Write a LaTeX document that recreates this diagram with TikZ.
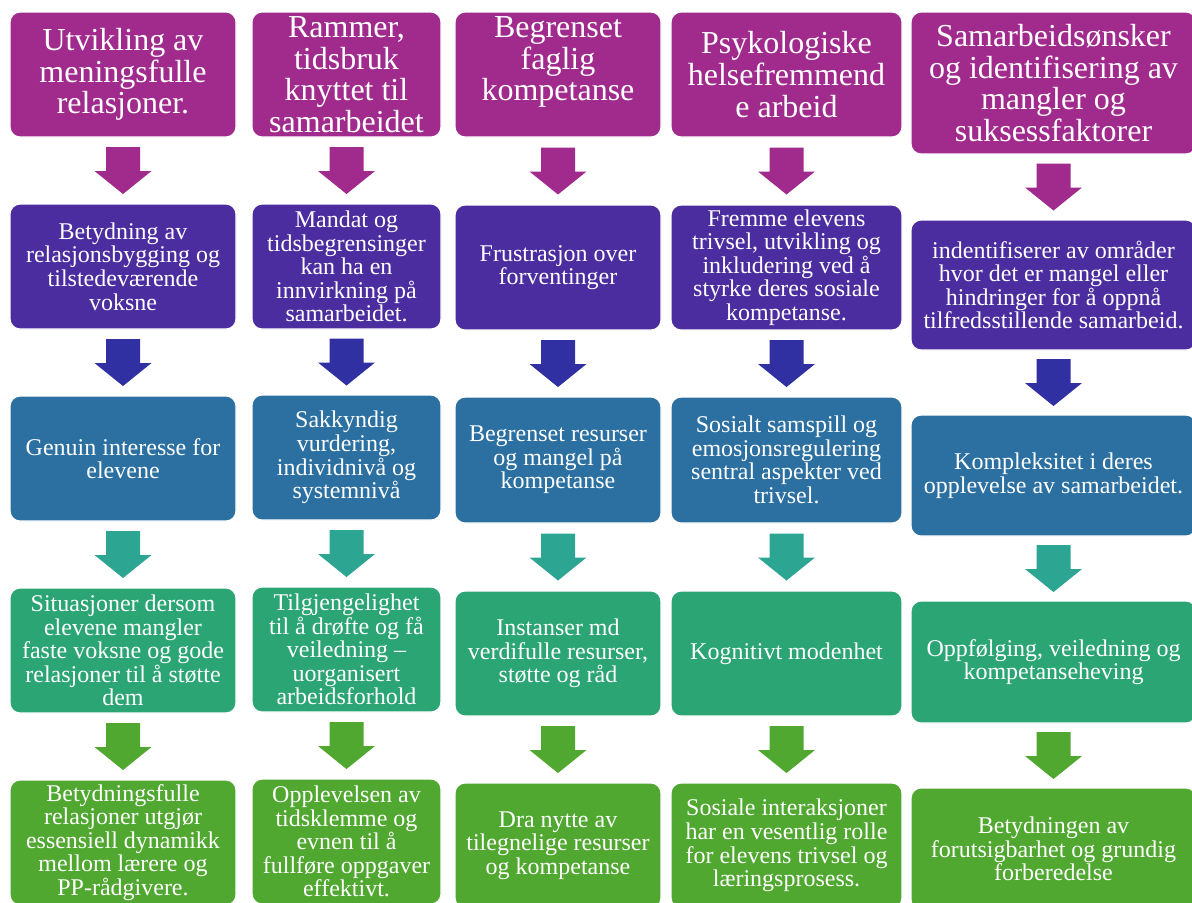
\documentclass[tikz,border=0pt]{standalone}
\usepackage{fontspec}
\setmainfont{Liberation Serif}
\usepackage{tikz}
\definecolor{farge1}{RGB}{160,43,141}
\definecolor{farge2}{RGB}{76,45,160}
\definecolor{pilblaa}{RGB}{48,48,163}
\definecolor{farge3}{RGB}{44,112,161}
\definecolor{piltyrkis}{RGB}{45,165,147}
\definecolor{farge4}{RGB}{44,165,117}
\definecolor{farge5}{RGB}{80,168,48}
\usetikzlibrary{calc}

\begin{document}
\begin{tikzpicture}[x=0.5pt, y=-0.5pt,
				boks/.style={rectangle, rounded corners=5pt, draw=white, line width=0.6pt, text=white, align=center, inner sep=0pt, font=\fontsize{12}{11.8}\selectfont},
				tittel/.style={boks, fill=farge1, font=\fontsize{16}{15.8}\selectfont},
				pil/.pic={\fill[pic actions] (-17,-23.5) -- (17,-23.5) -- (17,0.5) -- (28.5,0.5) -- (0,23.5) -- (-28.5,0.5) -- (-17,0.5) -- cycle;}]
				%Bildbereich
				\useasboundingbox (0,0) rectangle (1192,902);
				% Rad 1: overskrifter
				\node[tittel, minimum width=113pt, minimum height=62.5pt] (b11) at (123,74.5) {Utvikling av\\meningsfulle\\relasjoner.};
				\node[tittel, minimum width=94.5pt, minimum height=62.5pt] (b12) at (346.5,74.5) {Rammer,\\tidsbruk\\knyttet til\\samarbeidet};
				\node[tittel, minimum width=103pt, minimum height=62.5pt] (b13) at (558,74.5) {Begrenset\\faglig\\kompetanse\\\mbox{}};
				\node[tittel, minimum width=115.5pt, minimum height=62.5pt] (b14) at (786.5,74.5) {Psykologiske\\helsefremmend\\e arbeid};
				\node[tittel, minimum width=142.5pt, minimum height=71pt] (b15) at (1053.5,83) {Samarbeidsønsker\\og identifisering av\\mangler og\\suksessfaktorer};
				% Rad 2
				\node[boks, fill=farge2, minimum width=113pt, minimum height=62.5pt] (b21) at (123,266.5) {Betydning av\\relasjonsbygging og\\tilstedeværende\\voksne};
				\node[boks, fill=farge2, minimum width=94.5pt, minimum height=62.5pt] (b22) at (346.5,266.5) {Mandat og\\tidsbegrensinger\\kan ha en\\innvirkning på\\samarbeidet.};
				\node[boks, fill=farge2, minimum width=103pt, minimum height=62.5pt] (b23) at (558,267.5) {Frustrasjon over\\forventinger};
				\node[boks, fill=farge2, minimum width=115.5pt, minimum height=62.5pt] (b24) at (786.5,267.5) {Fremme elevens\\trivsel, utvikling og\\inkludering ved å\\styrke deres sosiale\\kompetanse.};
				\node[boks, fill=farge2, minimum width=142.5pt, minimum height=65pt] (b25) at (1053.5,285) {indentifiserer av områder\\hvor det er mangel eller\\hindringer for å oppnå\\tilfredsstillende samarbeid.};
				% Rad 3
				\node[boks, fill=farge3, minimum width=113pt, minimum height=62.5pt] (b31) at (123,458.5) {Genuin interesse for\\elevene};
				\node[boks, fill=farge3, minimum width=94.5pt, minimum height=62.5pt] (b32) at (346.5,457.5) {Sakkyndig\\vurdering,\\individnivå og\\systemnivå};
				\node[boks, fill=farge3, minimum width=103pt, minimum height=63pt] (b33) at (558,460) {Begrenset resurser\\og mangel på\\kompetanse};
				\node[boks, fill=farge3, minimum width=115.5pt, minimum height=63pt] (b34) at (786.5,460) {Sosialt samspill og\\emosjonsregulering\\sentral aspekter ved\\trivsel.};
				\node[boks, fill=farge3, minimum width=142.5pt, minimum height=60.5pt] (b35) at (1053.5,475.5) {Kompleksitet i deres\\opplevelse av samarbeidet.};
				% Rad 4
				\node[boks, fill=farge4, minimum width=113pt, minimum height=62.5pt] (b41) at (123,650.5) {Situasjoner dersom\\elevene mangler\\faste voksne og gode\\relasjoner til å støtte\\dem};
				\node[boks, fill=farge4, minimum width=94.5pt, minimum height=62.5pt] (b42) at (346.5,649.5) {Tilgjengelighet\\til å drøfte og få\\veiledning –\\uorganisert\\arbeidsforhold};
				\node[boks, fill=farge4, minimum width=103pt, minimum height=62.5pt] (b43) at (558,653.5) {Instanser md\\verdifulle resurser,\\støtte og råd};
				\node[boks, fill=farge4, minimum width=115.5pt, minimum height=62.5pt] (b44) at (786.5,653.5) {Kognitivt modenhet};
				\node[boks, fill=farge4, minimum width=142.5pt, minimum height=61pt] (b45) at (1053.5,662) {Oppfølging, veiledning og\\kompetanseheving};
				% Rad 5
				\node[boks, fill=farge5, minimum width=113pt, minimum height=62.5pt] (b51) at (123,842.5) {Betydningsfulle\\relasjoner utgjør\\essensiell dynamikk\\mellom lærere og\\PP-rådgivere.};
				\node[boks, fill=farge5, minimum width=94.5pt, minimum height=62.5pt] (b52) at (346.5,841.5) {Opplevelsen av\\tidsklemme og\\evnen til å\\fullføre oppgaver\\effektivt.};
				\node[boks, fill=farge5, minimum width=103pt, minimum height=62.5pt] (b53) at (558,845.5) {Dra nytte av\\tilegnelige resurser\\og kompetanse};
				\node[boks, fill=farge5, minimum width=115.5pt, minimum height=62.5pt] (b54) at (786.5,845.5) {Sosiale interaksjoner\\har en vesentlig rolle\\for elevens trivsel og\\læringsprosess.};
				\node[boks, fill=farge5, minimum width=142.5pt, minimum height=61pt] (b55) at (1053.5,849) {Betydningen av\\forutsigbarhet og grundig\\forberedelse};
				% Pilene mellom radene
				\foreach \r/\s/\f in {1/2/farge1, 2/3/pilblaa, 3/4/piltyrkis, 4/5/farge5}
					\foreach \k in {1,...,5}
						\pic[fill=\f] at ($(b\r\k.south)!0.5!(b\s\k.north)$) {pil};
			\end{tikzpicture}
\end{document}
